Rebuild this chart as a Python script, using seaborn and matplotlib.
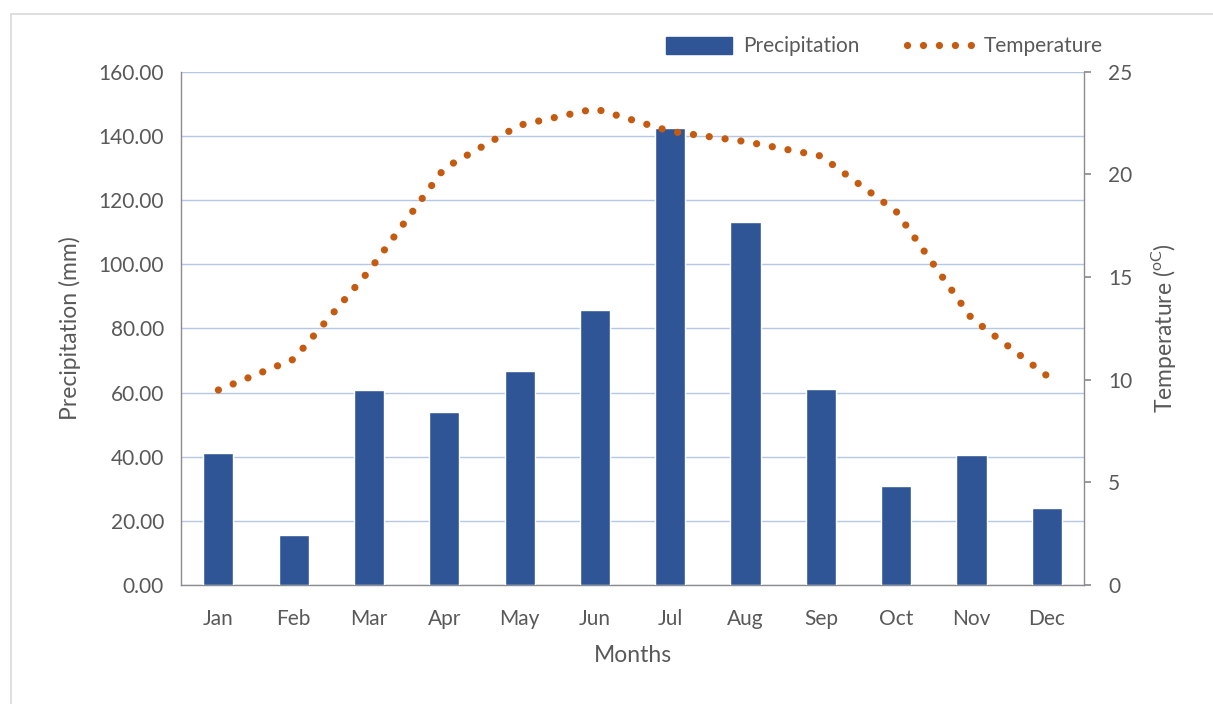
import matplotlib
matplotlib.use("Agg")
import matplotlib.pyplot as plt
import seaborn as sns
import pandas as pd
from matplotlib.patches import Rectangle, Patch
from matplotlib.lines import Line2D

# 데이터
months = ['Jan', 'Feb', 'Mar', 'Apr', 'May', 'Jun', 'Jul', 'Aug', 'Sep', 'Oct', 'Nov', 'Dec']
precipitation = [41.2, 15.6, 60.9, 54.0, 66.7, 85.8, 142.5, 113.2, 61.2, 30.9, 40.6, 24.1]
temperature = [9.5, 11.0, 15.3, 20.3, 22.4, 23.2, 22.1, 21.6, 20.9, 18.2, 13.0, 10.2]
precip_ticks = [0, 20, 40, 60, 80, 100, 120, 140, 160]
temp_ticks = [0, 5, 10, 15, 20, 25]

df = pd.DataFrame({'month': months, 'precip': precipitation, 'temp': temperature})

sns.set_theme(style='white')
plt.rcParams['font.family'] = ['Lato', 'DejaVu Sans']
plt.rcParams['mathtext.fontset'] = 'custom'
plt.rcParams['mathtext.rm'] = 'Lato'

bar_color = '#2f5597'
line_color = '#c55a11'
text_color = '#595959'
grid_color = '#b4c7e7'
spine_color = '#8c8c8c'
dot_style = (0, (0.01, 2.2))

fig = plt.figure(figsize=(12.13, 7.04), dpi=100)
ax = fig.add_axes([0.149, 0.169, 0.745, 0.729])

sns.barplot(data=df, x='month', y='precip', color=bar_color, width=0.4,
            saturation=1, ax=ax, zorder=3)
ax.set_ylim(0, 160)
ax.set_xlim(-0.5, 11.5)
ax.set_yticks(precip_ticks)
ax.set_yticklabels([f'{v:.2f}' for v in precip_ticks])
ax.yaxis.grid(True, color=grid_color, linewidth=1, zorder=0)
ax.set_axisbelow(True)
ax.set_xlabel('Months', fontsize=16.5, color=text_color, labelpad=12)
ax.set_ylabel('Precipitation (mm)', fontsize=16.5, color=text_color, labelpad=13)
ax.tick_params(axis='both', labelsize=15, colors=text_color, length=0)
ax.tick_params(axis='x', pad=17)
ax.tick_params(axis='y', pad=12)
for s in ['top', 'right']:
    ax.spines[s].set_visible(False)
for s in ['left', 'bottom']:
    ax.spines[s].set_color(spine_color)
    ax.spines[s].set_linewidth(1)

# 기온 (보조축)
ax2 = ax.twinx()
sns.lineplot(data=df, x='month', y='temp', ax=ax2, color=line_color, sort=False,
             linewidth=5.2, dashes=False, zorder=4)
line = ax2.get_lines()[0]
line.set_linestyle(dot_style)
line.set_dash_capstyle('round')
ax2.set_ylim(0, 25)
ax2.set_yticks(temp_ticks)
ax2.set_ylabel(r'Temperature ($^{\mathrm{oC}}$)', fontsize=16.5, color=text_color, labelpad=12)
ax2.tick_params(axis='y', labelsize=15, colors=text_color, length=5,
                color=spine_color, direction='out', pad=12)
ax2.grid(False)
for s in ['top', 'left', 'bottom']:
    ax2.spines[s].set_visible(False)
ax2.spines['right'].set_color(spine_color)
ax2.spines['right'].set_linewidth(1)
ax2.set_xlabel('')

# 범례
handles = [
    Patch(facecolor=bar_color, edgecolor=bar_color),
    Line2D([0], [0], color=line_color, linewidth=5.2,
           linestyle=dot_style, dash_capstyle='round'),
]
fig.legend(handles, ['Precipitation', 'Temperature'], loc='center',
           bbox_to_anchor=(0.729, 0.934), ncol=2, frameon=False,
           fontsize=15, labelcolor=text_color, handlelength=3.2,
           handleheight=0.85, columnspacing=2.3, handletextpad=0.5)

# 차트 영역 테두리
fig.patches.append(Rectangle((0.009, -0.01), 1.0, 0.99, transform=fig.transFigure,
                             fill=False, edgecolor='#d9d9d9', linewidth=1.2))

plt.savefig('out.png', dpi=100)
